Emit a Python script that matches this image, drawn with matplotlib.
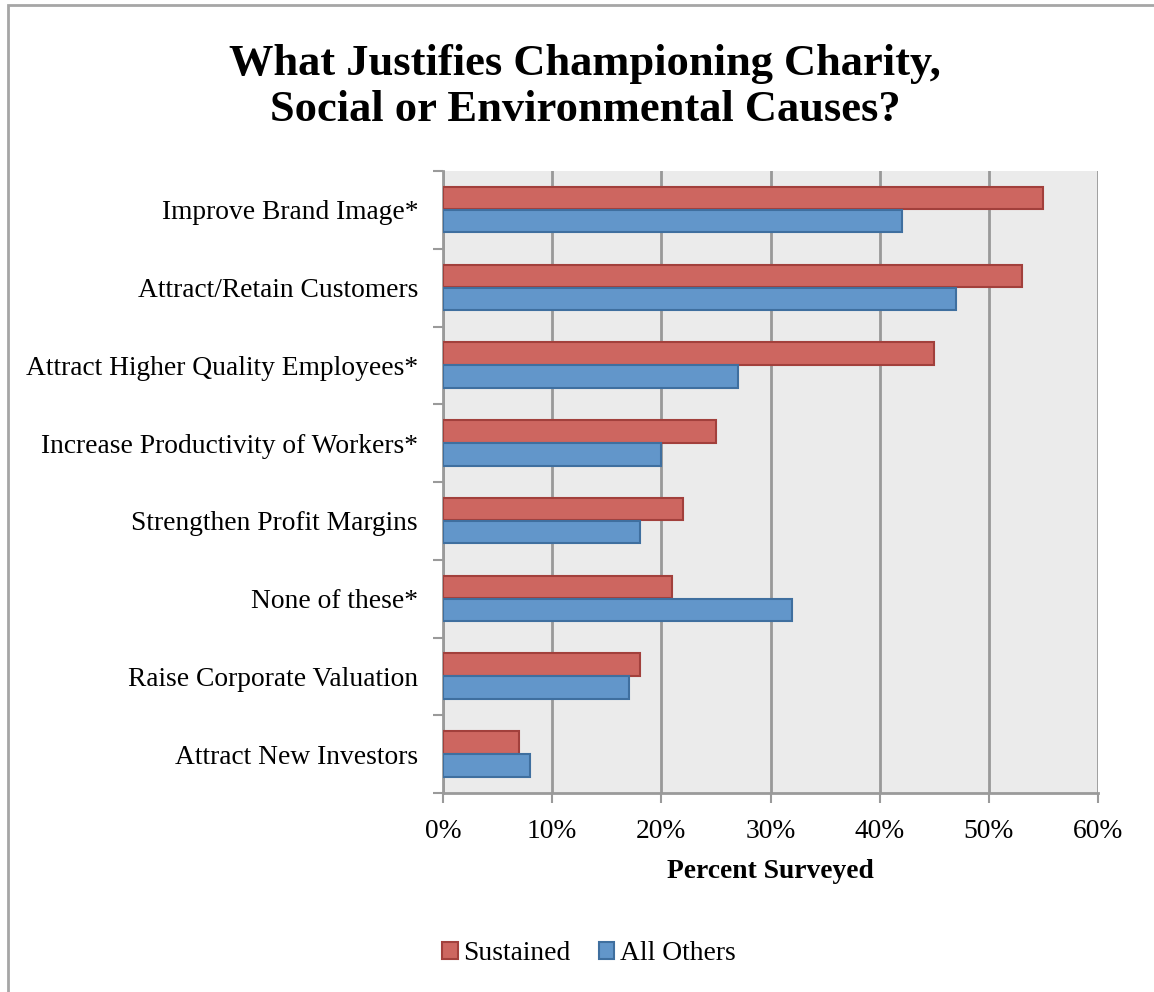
import matplotlib
matplotlib.use("Agg")
import matplotlib.pyplot as plt
import matplotlib.transforms as mtransforms
from matplotlib.patches import Rectangle, Patch
import numpy as np

categories = [
    "Improve Brand Image*",
    "Attract/Retain Customers",
    "Attract Higher Quality Employees*",
    "Increase Productivity of Workers*",
    "Strengthen Profit Margins",
    "None of these*",
    "Raise Corporate Valuation",
    "Attract New Investors",
]
sustained = [55, 53, 45, 25, 22, 21, 18, 7]
all_others = [42, 47, 27, 20, 18, 32, 17, 8]
x_ticks = [0, 10, 20, 30, 40, 50, 60]
x_tick_labels = ["0%", "10%", "20%", "30%", "40%", "50%", "60%"]

plt.rcParams["font.family"] = ["Liberation Serif", "DejaVu Serif"]
LBL = 19.8

W, H = 1154, 992
fig = plt.figure(figsize=(W / 100, H / 100), dpi=100)
fig.patch.set_facecolor("white")

# outer chart border
fig.add_artist(Rectangle((8 / W, 0 - 0.05), 1.2, 1 - 5 / H + 0.05,
                         transform=fig.transFigure, fill=False,
                         edgecolor="#a6a6a6", linewidth=2))

ax = fig.add_axes([443 / W, 1 - 793 / H, (1098 - 443) / W, (793 - 171) / H])
ax.set_facecolor("#ebebeb")

y = np.arange(len(categories))
bh = 0.29
red_fc, red_ec = "#cd6660", "#a2403c"
blue_fc, blue_ec = "#6296ca", "#3f6f9f"
ax.barh(y - 0.15, sustained, height=bh, color=red_fc, edgecolor=red_ec,
        linewidth=1.5, zorder=3, label="Sustained")
ax.barh(y + 0.145, all_others, height=bh, color=blue_fc, edgecolor=blue_ec,
        linewidth=1.5, zorder=3, label="All Others")

ax.set_xlim(0, 60)
ax.set_ylim(len(categories) - 0.5, -0.5)

ax.set_xticks(x_ticks)
ax.set_xticklabels(x_tick_labels, fontsize=LBL)
ax.set_yticks(y)
ax.set_yticklabels(categories, fontsize=LBL, va="center_baseline")
ax.set_yticks(np.arange(len(categories) + 1) - 0.5, minor=True)

# nudge category labels slightly downward
shift = mtransforms.ScaledTranslation(0, -3 / 100, fig.dpi_scale_trans)
for lab in ax.get_yticklabels():
    lab.set_transform(lab.get_transform() + shift)

ax.tick_params(axis="y", which="major", length=0, pad=18)
ax.tick_params(axis="y", which="minor", length=7, width=1.5, color="#9a9a9a",
               direction="out")
ax.tick_params(axis="x", which="major", length=7, width=1.5, color="#9a9a9a",
               direction="out", pad=12)

ax.grid(axis="x", color="#999999", linewidth=2, zorder=1)
ax.set_axisbelow(True)
for s in ["top", "right"]:
    ax.spines[s].set_visible(False)
for s in ["left", "bottom"]:
    ax.spines[s].set_color("#9a9a9a")
    ax.spines[s].set_linewidth(2)

ax.set_xlabel("Percent Surveyed", fontsize=LBL, fontweight="bold", labelpad=10.5)

fig.text(585 / W, 1 - 87 / H,
         "What Justifies Championing Charity,\nSocial or Environmental Causes?",
         ha="center", va="center", fontsize=32, fontweight="bold",
         linespacing=1.2)

handles = [Patch(facecolor=red_fc, edgecolor=red_ec, linewidth=1.5),
           Patch(facecolor=blue_fc, edgecolor=blue_ec, linewidth=1.5)]
fig.legend(handles, ["Sustained", "All Others"], loc="center",
           bbox_to_anchor=(589 / W, 1 - 954 / H), ncol=2, frameon=False,
           fontsize=LBL, handlelength=0.55, handleheight=0.55,
           handletextpad=0.2, columnspacing=1.05)

fig.savefig("out.png", dpi=100)
